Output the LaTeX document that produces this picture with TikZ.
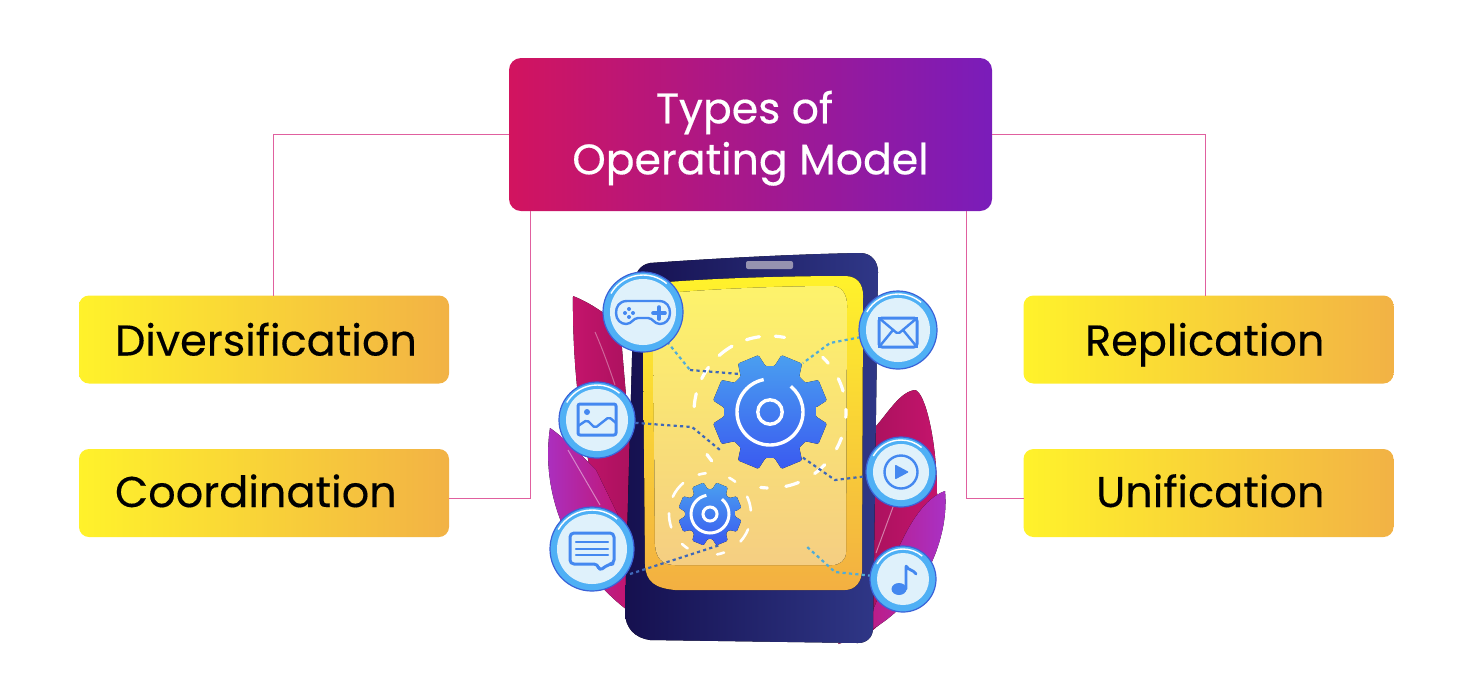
\documentclass[tikz,border=0pt]{standalone}
\usepackage{fontspec}
\setmainfont{Poppins}[FakeBold=0.35]
\definecolor{linkpink}{HTML}{E0609F}
\definecolor{titlel}{HTML}{D2145F}
\definecolor{titler}{HTML}{7A1CBA}
\definecolor{boxl}{HTML}{FFF22B}
\definecolor{boxr}{HTML}{F2B245}
\definecolor{paneltop}{HTML}{FDF36B}
\definecolor{panelend}{HTML}{F5CE82}
\definecolor{navyl}{HTML}{15104F}
\definecolor{navyr}{HTML}{2F3787}
\definecolor{leafm}{HTML}{C4146C}
\definecolor{leafp}{HTML}{A832C8}
\definecolor{ballring}{HTML}{4FB0F5}
\definecolor{balledge}{HTML}{3A62D8}
\definecolor{ballin}{HTML}{DFF1FB}
\definecolor{icon}{HTML}{4488F0}
\definecolor{gearhi}{HTML}{4A9FF0}
\definecolor{gearlo}{HTML}{3A5AF0}
\definecolor{dotdark}{HTML}{3F68B8}
\definecolor{dotlight}{HTML}{4FACD8}
\tikzset{
  titlebox/.style={rounded corners=6pt,left color=titlel,right color=titler,text=white,
    minimum width=241.5pt,minimum height=76.5pt,inner sep=0pt,align=center,
    font=\fontsize{21.3}{25.5}\selectfont},
  leafbox/.style={rounded corners=5pt,left color=boxl,right color=boxr,text=black,
    minimum width=185pt,minimum height=44pt,inner xsep=0pt,text width=185pt,
    text height=16pt,text depth=0pt,
    font=\fontsize{21.5}{25}\selectfont},
  leftbox/.style={leafbox,align=left,execute at begin node=\hspace*{18pt}},
  rightbox/.style={leafbox,align=right,execute at end node=\hspace*{34.5pt}},
  lowrow/.style={text height=15pt,text depth=1pt},
  link/.style={linkpink,line width=0.45pt},
  dashring/.style={white,line width=1.6pt,line cap=round},
  dotlink/.style={line width=1.1pt,dash pattern=on 1.6pt off 1.6pt},
  iconline/.style={icon,line width=1.2pt,line join=round,line cap=round,rounded corners=1pt},
  ball/.style={circle,draw=balledge,line width=0.6pt,fill=ballring,inner sep=0pt},
  ballcore/.style={circle,fill=ballin,inner sep=0pt},
}
% gear with eight teeth: outer radius, root radius, then the ring radii
\newcommand{\gearwheel}[5]{%
  \begin{scope}[shift={(#1)},yscale=-1]
    \fill[top color=gearhi,bottom color=gearlo,rounded corners=0.6pt]
      (22.5-17:#3) \foreach \a in {22.5,67.5,...,337.5} {
        -- (\a-17:#3) -- (\a-11:#2) -- (\a+11:#2) -- (\a+17:#3) } -- cycle;
    \draw[white,line width=#5] (101:#4) arc (101:411:#4);
    \draw[white,line width=#5] (0,0) circle ({#4*0.37});
  \end{scope}}
\newcommand{\iconball}[3]{%
  \node[ball,minimum size=#3 pt] (#1) at (#2) {};
  \node[ballcore,minimum size={#3*1pt-7pt}] (#1core) at (#2) {};
  \begin{scope}[shift={(#2)},yscale=-1]
    \draw[white,line width=0.7pt] (150:#3-3) arc (150:50:#3-3);
  \end{scope}}
\begin{document}
\begin{tikzpicture}[x=0.5pt,y=-0.5pt]
  \useasboundingbox (0,0) rectangle (1472,693);
  % boxes
  \node[titlebox] (title) at (750.5,134.5) {\rule{0pt}{20pt}Types of\hspace*{6pt}\\Operating Model};
  \node[leftbox] (diver) at (264,339.5) {Diversification};
  \node[leftbox,lowrow] (coord) at (264,493) {Coordination};
  \node[rightbox] (repli) at (1208.5,339.5) {Replication};
  \node[rightbox,lowrow] (unifi) at (1208.5,493) {Unification};
  \coordinate (divertop) at (273,296);
  \coordinate (replitop) at (1205,296);
  \coordinate (coordend) at (449,498);
  \coordinate (unifiend) at (1024,498);
  \coordinate (titlesl) at (530,211);
  \coordinate (titlesr) at (966,211);
  \draw[link] (title.west) -| (divertop);
  \draw[link] (title.east) -| (replitop);
  \draw[link] (titlesl) |- (coordend);
  \draw[link] (titlesr) |- (unifiend);
  % leaves
  \fill[left color=leafm,right color=leafm!85!black]
    (573,296) .. controls (590,303) and (600,310) .. (620,325) -- (640,560) -- (625,575)
    .. controls (590,500) and (572,400) .. (573,296) -- cycle;
  \fill[left color=leafp,right color=leafm]
    (550,428) .. controls (556,432) and (572,445) .. (596,470) -- (630,540) -- (630,612)
    .. controls (585,580) and (538,510) .. (550,428) -- cycle;
  \draw[white,opacity=.35,line width=0.5pt] (595,332) .. controls (603,350) and (610,370) .. (615,385);
  \draw[white,opacity=.45,line width=0.5pt] (568,450) -- (600,505);
  \fill[left color=leafm!85!black,right color=leafm]
    (915,390) .. controls (925,392) and (937,440) .. (937,495)
    .. controls (937,545) and (905,610) .. (860,640) -- (860,440) .. controls (880,430) and (895,392) .. (915,390) -- cycle;
  \fill[left color=leafm,right color=leafp]
    (945,491) .. controls (950,540) and (920,620) .. (838,644) -- (868,620)
    .. controls (885,590) and (905,505) .. (945,491) -- cycle;
  \draw[white,opacity=.45,line width=0.5pt] (893,507) -- (876,553);
  % tablet
  \fill[left color=navyl,right color=navyr]
    (650,263) .. controls (720,258) and (800,254) .. (860,253) .. controls (872,253) and (878,262) .. (878,272)
    -- (873,628) .. controls (873,638) and (866,643) .. (858,643)
    -- (650,640) .. controls (635,638) and (625,628) .. (625,612)
    -- (634,285) .. controls (635,272) and (640,265) .. (650,263) -- cycle;
  \fill[rounded corners=1pt,color=navyl!45!white] (746,261) rectangle (793,269);
  % screen
  \fill[shading angle=150,top color=boxl,bottom color=boxr!95!orange]
    (668,282) .. controls (720,278) and (790,276) .. (845,276) .. controls (857,276) and (863,284) .. (863,295)
    -- (862,570) .. controls (862,582) and (855,590) .. (845,590)
    -- (675,590) .. controls (655,588) and (646,582) .. (645,565)
    -- (643,335) .. controls (643,300) and (650,284) .. (668,282) -- cycle;
  \fill[shading angle=150,top color=paneltop,bottom color=panelend]
    (680,292) .. controls (730,288) and (790,286) .. (832,286) .. controls (842,286) and (847,295) .. (847,305)
    -- (846,552) .. controls (846,560) and (840,565) .. (832,565)
    -- (675,565) .. controls (662,565) and (656,558) .. (655,545)
    -- (653,320) .. controls (653,300) and (662,293) .. (680,292) -- cycle;
  % dashes round the gears
  \begin{scope}[shift={(770,412)},yscale=-1]
    \foreach \a/\b in {79/86,98/108,120/132,144/154,166/176,40/46,16/26,-4/2,-29/-20,-54/-44,-78/-68,-97/-92,-146/-140}
      \draw[dashring] (\a:76) arc (\a:\b:76);
  \end{scope}
  \begin{scope}[shift={(710,514)},yscale=-1]
    \foreach \a/\b in {96/106,52/62,5/25,-42/-22,-80/-70,-133/-123,-181/-161,131/155}
      \draw[dashring,line width=1.3pt] (\a:41) arc (\a:\b:41);
  \end{scope}
  % dotted links
  \coordinate (gamec) at (643,312);
  \coordinate (mailc) at (898,330);
  \coordinate (imagec) at (597,420);
  \coordinate (playc) at (901,472);
  \coordinate (chatc) at (592,549);
  \coordinate (musicc) at (903,579);
  \draw[dotlink,dotlight] (gamec) -- (690,370);
  \draw[dotlink,dotdark] (690,370) -- (740,374);
  \draw[dotlink,dotlight] (mailc) -- (830,343) -- (803,363);
  \draw[dotlink,dotdark] (imagec) -- (692,427) -- (720,450);
  \draw[dotlink,dotdark] (playc) -- (835,480) -- (802,457);
  \draw[dotlink,dotdark] (630,574) -- (720,545);
  \draw[dotlink,dotlight] (musicc) -- (835,572) -- (805,545);
  % gears
  \gearwheel{770,412}{58}{46}{33}{1.7pt}
  \gearwheel{710,514}{32}{25}{19}{1.5pt}
  % icons
  \iconball{game}{gamec}{40}
  \iconball{mail}{mailc}{39}
  \iconball{image}{imagec}{38}
  \iconball{play}{playc}{35}
  \iconball{chat}{chatc}{42}
  \iconball{music}{musicc}{33}
  \begin{scope}[shift={(gamec)}]
    \draw[iconline,rounded corners=0pt] (-16,-11) -- (16,-11) .. controls (24,-11) and (27,-5) .. (27,1)
      .. controls (27,8) and (22,12) .. (17,12) .. controls (11,12) and (10,6) .. (5,6) -- (-5,6)
      .. controls (-10,6) and (-11,12) .. (-17,12) .. controls (-22,12) and (-27,8) .. (-27,1)
      .. controls (-27,-5) and (-24,-11) .. (-16,-11) -- cycle;
    \draw[iconline,line width=1.8pt] (10,1) -- (22,1) (16,-5) -- (16,7);
    \foreach \dx/\dy in {-18/1,-10/1,-14/-3,-14/5}
      \fill[icon] (\dx,\dy) circle (2);
  \end{scope}
  \begin{scope}[shift={(mailc)}]
    \draw[iconline,line width=1.5pt,rounded corners=1.5pt] (-19,-12) rectangle (19,17);
    \draw[iconline] (-19,-12) -- (0,4) -- (19,-12) (-19,17) -- (-5,0) (19,17) -- (5,0);
  \end{scope}
  \begin{scope}[shift={(imagec)}]
    \draw[iconline,line width=1.5pt] (-19,-16) rectangle (19,15);
    \draw[iconline] (-19,6) -- (-10,0) -- (-2,8) -- (12,-3) -- (19,3);
    \fill[icon] (-10,-8) circle (3);
  \end{scope}
  \begin{scope}[shift={(playc)}]
    \draw[icon,line width=1.2pt] (0,0) circle (16.5);
    \fill[icon,rounded corners=0.5pt] (-6,-7.5) -- (8,0) -- (-6,7.5) -- cycle;
  \end{scope}
  \begin{scope}[shift={(chatc)}]
    \draw[iconline,line width=1.5pt,rounded corners=2pt] (-22,-16) -- (22,-16) -- (22,15) -- (17,15) -- (7,22) -- (6,15) -- (-22,15) -- cycle;
    \foreach \ly in {-7,0,6}
      \draw[iconline] (-16,\ly) -- (16,\ly);
  \end{scope}
  \begin{scope}[shift={(musicc)}]
    \fill[icon] (-4,10) ellipse (7.5 and 6);
    \draw[iconline,line width=1.4pt] (3,10) -- (3,-14) .. controls (5,-9) and (11,-9) .. (13,-5);
  \end{scope}
\end{tikzpicture}
\end{document}
